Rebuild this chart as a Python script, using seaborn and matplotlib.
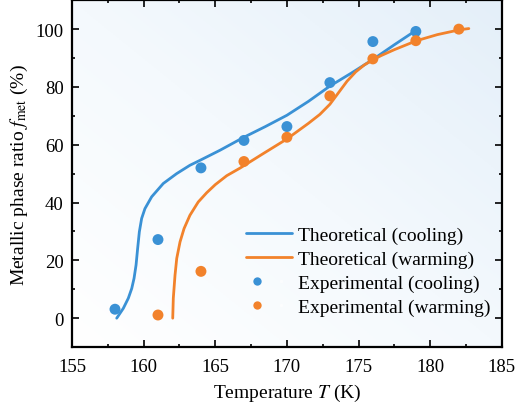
import numpy as np
import pandas as pd
import seaborn as sns
import matplotlib.pyplot as plt
from matplotlib.colors import LinearSegmentedColormap
from matplotlib.lines import Line2D
from matplotlib.legend_handler import HandlerTuple
from matplotlib.ticker import MultipleLocator
from matplotlib.transforms import offset_copy

# Theoretical curves
theo_cool_T = [158.12, 158.58, 158.93, 159.17, 159.33, 159.47, 159.58, 159.70, 159.86, 160.09,
               160.56, 161.37, 162.3, 163.23, 163.93, 165.33, 166.96, 168.5, 170.0, 171.5,
               173.0, 174.5, 176.0, 177.5, 179.05]
theo_cool_f = [0, 3.4, 6.9, 10.3, 13.8, 18.4, 24.1, 29.9, 34.5, 37.9,
               42.0, 46.6, 50.0, 52.9, 54.6, 58.1, 62.5, 66.3, 70.2, 75.0,
               80.3, 84.8, 89.5, 94.6, 99.7]
theo_warm_T = [162.03, 162.07, 162.19, 162.31, 162.54, 162.82, 163.23, 163.81, 164.4, 165.0,
               165.8, 166.72, 168.3, 170.0, 171.5, 172.3, 173.0, 173.6, 174.2, 174.8,
               175.4, 176.0, 176.6, 177.5, 179.05, 180.5, 182.08, 182.7]
theo_warm_f = [0, 6.9, 14.9, 20.7, 26.4, 31.0, 35.6, 40.2, 43.4, 46.2,
               49.3, 51.9, 56.8, 62.0, 67.4, 70.5, 74.0, 78.0, 82.0, 85.2,
               87.6, 89.4, 90.9, 92.9, 96.0, 98.1, 99.8, 100.2]

# Experimental points
exp_cool_T = [158, 161, 164, 167, 170, 173, 176, 179]
exp_cool_f = [3.1, 27.2, 52, 61.5, 66.3, 81.5, 95.7, 99.2]
exp_warm_T = [161, 164, 167, 170, 173, 176, 179, 182]
exp_warm_f = [1.1, 16.2, 54.2, 62.6, 76.9, 89.7, 96, 100]

blue = '#3a91d5'
orange = '#f2822b'

sns.set_theme(style='ticks')
plt.rcParams['font.family'] = ['Liberation Serif', 'DejaVu Serif']
plt.rcParams['mathtext.fontset'] = 'stix'
plt.rcParams.update({'xtick.direction': 'in', 'ytick.direction': 'in',
                     'axes.edgecolor': 'black', 'xtick.color': 'black',
                     'ytick.color': 'black', 'text.color': 'black',
                     'axes.labelcolor': 'black'})

fig = plt.figure(figsize=(5.2, 4.1), dpi=100)
ax = fig.add_axes([0.1385, 0.151, 0.8265, 0.846])

# gradient background
gx, gy = np.meshgrid(np.linspace(0, 1, 200), np.linspace(0, 1, 200))
grad = (gx + (1 - gy)) / 2
cmap = LinearSegmentedColormap.from_list('bg', ['#ffffff', '#f4f9fd', '#e4eff9'])
ax.imshow(grad, extent=[0, 1, 0, 1], transform=ax.transAxes, cmap=cmap,
          aspect='auto', origin='upper', zorder=0)

df_cool = pd.DataFrame({'T': theo_cool_T, 'f': theo_cool_f})
df_warm = pd.DataFrame({'T': theo_warm_T, 'f': theo_warm_f})
sns.lineplot(data=df_cool, x='T', y='f', sort=False, color=blue, lw=2.0, ax=ax, zorder=2)
sns.lineplot(data=df_warm, x='T', y='f', sort=False, color=orange, lw=2.0, ax=ax, zorder=2)


def sphere(T, f, col):
    # shaded ball look: base dot plus a small light highlight
    sns.scatterplot(x=T, y=f, color=col, s=62, edgecolor='none', ax=ax, zorder=3)
    hl = ax.scatter(T, f, s=11, color='white', alpha=0.6, edgecolor='none', zorder=4)
    hl.set_transform(offset_copy(ax.transData, fig=fig, x=-1.1, y=1.1, units='points'))


sphere(exp_cool_T, exp_cool_f, blue)
sphere(exp_warm_T, exp_warm_f, orange)

ax.set_xlim(155, 185)
ax.set_ylim(-10, 110)
ax.xaxis.set_major_locator(MultipleLocator(5))
ax.xaxis.set_minor_locator(MultipleLocator(2.5))
ax.yaxis.set_major_locator(MultipleLocator(20))
ax.yaxis.set_minor_locator(MultipleLocator(10))
ax.tick_params(which='both', top=True, right=True, width=1.2, labelsize=13.5)
ax.tick_params(axis='x', pad=8)
ax.tick_params(axis='y', pad=6)
ax.tick_params(which='major', length=5)
ax.tick_params(which='minor', length=2.5)
for sp in ax.spines.values():
    sp.set_linewidth(1.6)
    sp.set_zorder(5)

ax.set_xlabel('Temperature $T$ (K)', fontsize=14, labelpad=5)
ax.set_ylabel(r'Metallic phase ratio $f_{\rm met}$ (%)', fontsize=14, labelpad=4)


def ball(col):
    base = Line2D([], [], ls='none', marker='o', ms=6, color=col, mec='none')
    hi = Line2D([], [], ls='none', marker='o', ms=2.5, color='white', alpha=0.6, mec='none')
    return (base, hi)


handles = [Line2D([], [], color=blue, lw=2.0), Line2D([], [], color=orange, lw=2.0),
           ball(blue), ball(orange)]
labels = ['Theoretical (cooling)', 'Theoretical (warming)',
          'Experimental (cooling)', 'Experimental (warming)']
ax.legend(handles, labels, loc='lower right', bbox_to_anchor=(0.974, 0.09),
          frameon=False, fontsize=14, handlelength=2.4, handletextpad=0.3,
          labelspacing=0.32, borderpad=0, borderaxespad=0,
          handler_map={tuple: HandlerTuple(ndivide=None)})

fig.savefig('out.png', dpi=100)
